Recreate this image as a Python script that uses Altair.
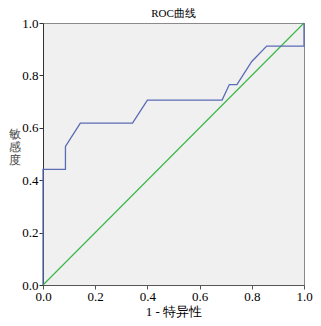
import altair as alt
import pandas as pd

# ROC curve points (1 - specificity, sensitivity)
fpr = [0.0, 0.0, 0.086, 0.086, 0.143, 0.343, 0.400, 0.686, 0.714, 0.743, 0.800, 0.857, 1.0, 1.0]
tpr = [0.0, 0.441, 0.441, 0.529, 0.618, 0.618, 0.706, 0.706, 0.765, 0.765, 0.853, 0.912, 0.912, 1.0]
ref_x = [0.0, 1.0]
ref_y = [0.0, 1.0]
ticks = [0.0, 0.2, 0.4, 0.6, 0.8, 1.0]

roc = pd.DataFrame({"x": fpr, "y": tpr, "o": list(range(len(fpr)))})
diag = pd.DataFrame({"x": ref_x, "y": ref_y, "o": [0, 1]})

serif = "Liberation Serif"

xenc = alt.X("x:Q", scale=alt.Scale(domain=[0, 1], nice=False),
             axis=alt.Axis(values=ticks, format=".1f", title="1 - 特异性",
                           labelFont=serif, labelFontSize=13, labelColor="#000",
                           titleFont=serif, titleFontSize=13, titleFontWeight="normal",
                           titleColor="#000", titlePadding=2, labelPadding=1,
                           tickSize=4, domainColor="#555", tickColor="#555",
                           grid=False, labelFlush=False))
yenc = alt.Y("y:Q", scale=alt.Scale(domain=[0, 1], nice=False),
             axis=alt.Axis(values=ticks, format=".1f", title=["敏", "感", "度"],
                           labelFont=serif, labelFontSize=13, labelColor="#000",
                           titleFont=serif, titleFontSize=12, titleFontWeight="normal",
                           titleColor="#444", titleAngle=0.01, titleX=-28, titleY=106,
                           titleAlign="center", titleBaseline="top", titleLineHeight=13,
                           labelPadding=1, tickSize=4, domainColor="#333", tickColor="#333",
                           grid=False, labelFlush=False))

diag_line = alt.Chart(diag).mark_line(color="#3cb84a", strokeWidth=1.2, clip=False).encode(
    x=xenc, y=yenc, order="o:Q")
roc_line = alt.Chart(roc).mark_line(color="#5b6bb5", strokeWidth=1.3, clip=False).encode(
    x=xenc, y=yenc, order="o:Q")

chart = alt.layer(diag_line, roc_line).properties(
    width=305, height=310,
    title=alt.TitleParams("ROC曲线", font=serif, fontSize=11, fontWeight="normal",
                          color="#000", offset=-2),
    autosize=alt.AutoSizeParams(type="fit", contains="padding"),
    padding=0,
).configure_view(
    fill="#f0f0f0", stroke="#8a8a8a", strokeWidth=1
)

chart.save("out.html", embed_options={"renderer": "svg", "actions": False})
